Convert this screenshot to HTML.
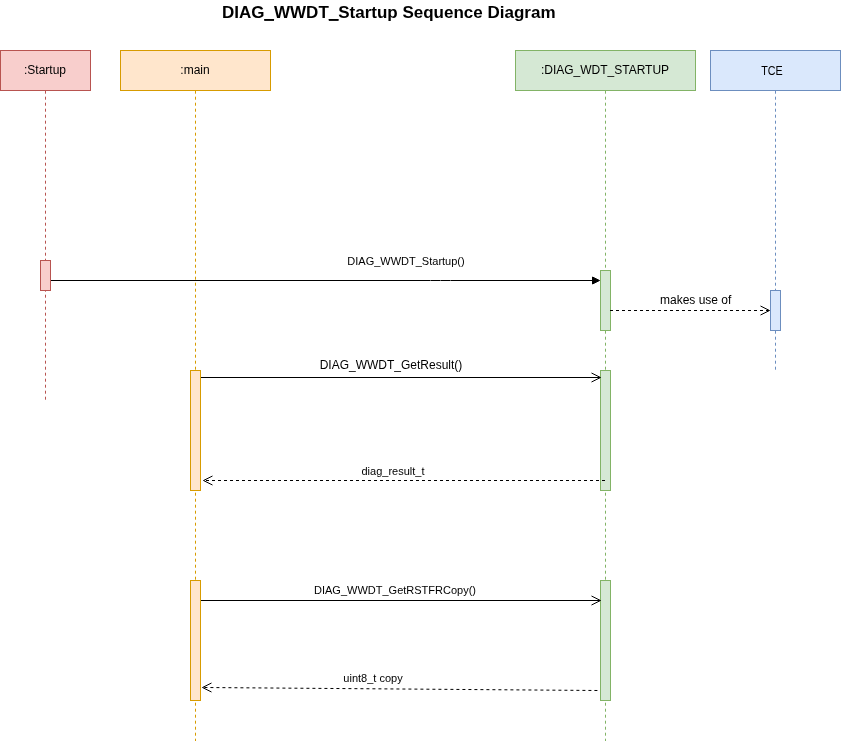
<!DOCTYPE html>
<html>
<head>
<meta charset="utf-8">
<title>DIAG_WWDT_Startup Sequence Diagram</title>
<style>
  html, body { margin: 0; padding: 0; background: #ffffff; }
  body { width: 841px; height: 742px; overflow: hidden; font-family: "Liberation Sans", sans-serif; }
  svg { display: block; will-change: transform; }
  text { font-family: "Liberation Sans", sans-serif; fill: #000000; }
  .t12 { font-size: 12px; text-anchor: middle; }
  .t11 { font-size: 11px; text-anchor: middle; }
  .title { font-size: 17px; font-weight: bold; text-anchor: middle; }
</style>
</head>
<body>
<svg width="841" height="742" viewBox="0 0 841 742">
  <rect x="0" y="0" width="841" height="742" fill="#ffffff"/>

  <!-- title -->
  <text class="title" x="388.8" y="18">DIAG_WWDT_Startup Sequence Diagram</text>
  <rect x="264.2" y="19" width="9.8" height="1.9" fill="#000"/>
  <rect x="328.8" y="19" width="9.8" height="1.9" fill="#000"/>

  <!-- lifelines -->
  <line x1="45.5" y1="90.7" x2="45.5" y2="400" stroke="#b85450" stroke-width="1" stroke-dasharray="3 3"/>
  <line x1="195.5" y1="90.7" x2="195.5" y2="741" stroke="#d79b00" stroke-width="1" stroke-dasharray="3 3"/>
  <line x1="605.5" y1="90.7" x2="605.5" y2="741" stroke="#82b366" stroke-width="1" stroke-dasharray="3 3"/>
  <line x1="775.5" y1="90.7" x2="775.5" y2="370" stroke="#6c8ebf" stroke-width="1" stroke-dasharray="3 3"/>

  <!-- participant boxes -->
  <rect x="0.5" y="50.5" width="90" height="40" fill="#f8cecc" stroke="#b85450"/>
  <text class="t12" x="45" y="74">:Startup</text>
  <rect x="120.5" y="50.5" width="150" height="40" fill="#ffe6cc" stroke="#d79b00"/>
  <text class="t12" x="195" y="74">:main</text>
  <rect x="515.5" y="50.5" width="180" height="40" fill="#d5e8d4" stroke="#82b366"/>
  <text class="t12" x="605" y="74">:DIAG_WDT_STARTUP</text>
  <rect x="710.5" y="50.5" width="130" height="40" fill="#dae8fc" stroke="#6c8ebf"/>
  <text class="t12" x="771.9" y="75" textLength="21.5" lengthAdjust="spacingAndGlyphs">TCE</text>

  <!-- activations -->
  <rect x="40.5" y="260.5" width="10" height="30" fill="#f8cecc" stroke="#b85450"/>
  <rect x="600.5" y="270.5" width="10" height="60" fill="#d5e8d4" stroke="#82b366"/>
  <rect x="770.5" y="290.5" width="10" height="40" fill="#dae8fc" stroke="#6c8ebf"/>
  <rect x="190.5" y="370.5" width="10" height="120" fill="#ffe6cc" stroke="#d79b00"/>
  <rect x="600.5" y="370.5" width="10" height="120" fill="#d5e8d4" stroke="#82b366"/>
  <rect x="190.5" y="580.5" width="10" height="120" fill="#ffe6cc" stroke="#d79b00"/>
  <rect x="600.5" y="580.5" width="10" height="120" fill="#d5e8d4" stroke="#82b366"/>

  <!-- message 1: Startup -> DIAG_WDT_STARTUP (filled block arrow) -->
  <line x1="51" y1="280.5" x2="593" y2="280.5" stroke="#000" stroke-width="1"/>
  <path d="M 599.5 280.5 L 592.5 284 L 592.5 277 Z" fill="#000" stroke="#000" stroke-width="1" stroke-linejoin="miter"/>
  <rect x="430" y="280" width="1" height="1" fill="#fff" opacity="0.35"/>
  <rect x="440" y="280" width="1" height="1" fill="#fff" opacity="0.35"/>
  <rect x="450" y="280" width="1" height="1" fill="#fff" opacity="0.35"/>
  <text class="t11" x="406" y="265">DIAG_WWDT_Startup()</text>

  <!-- message 2: makes use of (dashed, open arrow) -->
  <line x1="610" y1="310.5" x2="769" y2="310.5" stroke="#000" stroke-width="1" stroke-dasharray="3 3"/>
  <path d="M 760.5 306 L 769.5 310.5 L 760.5 315" fill="none" stroke="#000" stroke-width="1"/>
  <text class="t12" x="695.7" y="304">makes use of</text>

  <!-- message 3: GetResult -->
  <line x1="201" y1="377.5" x2="600" y2="377.5" stroke="#000" stroke-width="1"/>
  <path d="M 591.5 373 L 600.5 377.5 L 591.5 382" fill="none" stroke="#000" stroke-width="1"/>
  <text class="t12" x="391" y="369">DIAG_WWDT_GetResult()</text>

  <!-- message 4: diag_result_t -->
  <line x1="605" y1="480.5" x2="204" y2="480.5" stroke="#000" stroke-width="1" stroke-dasharray="3 3"/>
  <path d="M 212.5 476 L 203.5 480.5 L 212.5 485" fill="none" stroke="#000" stroke-width="1"/>
  <text class="t11" x="393" y="475">diag_result_t</text>

  <!-- message 5: GetRSTFRCopy -->
  <line x1="201" y1="600.5" x2="600" y2="600.5" stroke="#000" stroke-width="1"/>
  <path d="M 591.5 596 L 600.5 600.5 L 591.5 605" fill="none" stroke="#000" stroke-width="1"/>
  <text class="t11" x="395" y="594">DIAG_WWDT_GetRSTFRCopy()</text>

  <!-- message 6: uint8_t copy -->
  <line x1="597.4" y1="690.5" x2="203" y2="687.5" stroke="#000" stroke-width="1" stroke-dasharray="3 3"/>
  <path d="M 211.5 683 L 202.5 687.5 L 211.5 692" fill="none" stroke="#000" stroke-width="1"/>
  <text class="t11" x="373" y="682">uint8_t copy</text>
</svg>
</body>
</html>
